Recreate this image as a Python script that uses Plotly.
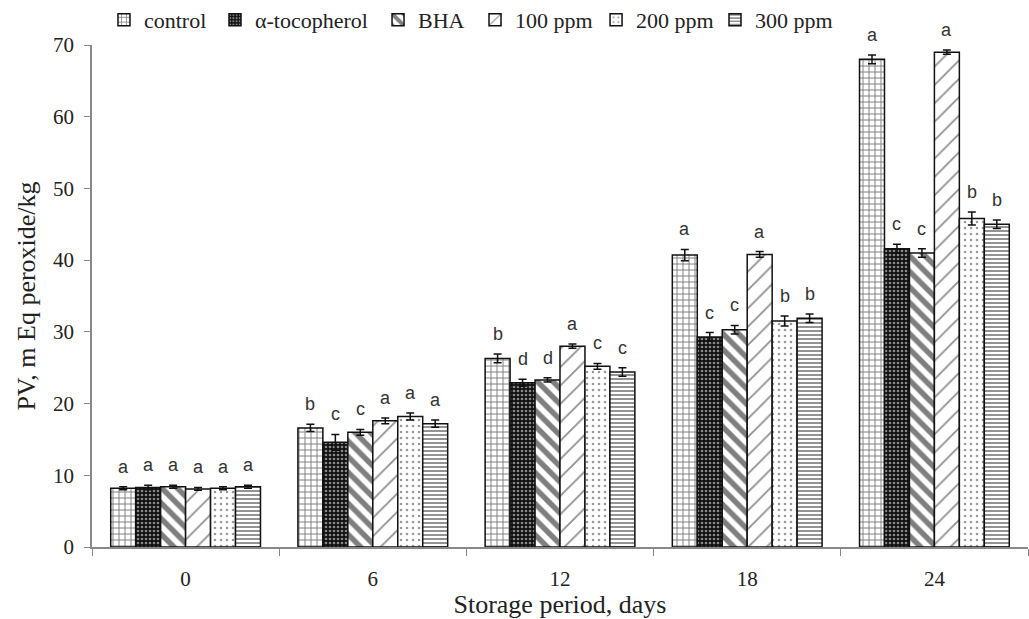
import plotly.graph_objects as go

days = ["0", "6", "12", "18", "24"]
series_names = ["control", "α-tocopherol", "BHA", "100 ppm", "200 ppm", "300 ppm"]

control = [8.2, 16.6, 26.3, 40.7, 68.0]
tocopherol = [8.3, 14.6, 22.9, 29.3, 41.6]
bha = [8.4, 16.0, 23.3, 30.3, 41.0]
ppm100 = [8.1, 17.6, 28.0, 40.8, 69.0]
ppm200 = [8.2, 18.2, 25.2, 31.5, 45.8]
ppm300 = [8.4, 17.2, 24.4, 31.9, 45.0]

err_control = [0.2, 0.5, 0.6, 0.8, 0.6]
err_tocopherol = [0.3, 1.1, 0.5, 0.6, 0.6]
err_bha = [0.2, 0.4, 0.3, 0.6, 0.6]
err_100 = [0.2, 0.4, 0.3, 0.4, 0.3]
err_200 = [0.2, 0.5, 0.4, 0.7, 0.9]
err_300 = [0.2, 0.5, 0.6, 0.6, 0.6]

letters_control = ["a", "b", "b", "a", "a"]
letters_tocopherol = ["a", "c", "d", "c", "c"]
letters_bha = ["a", "c", "d", "c", "c"]
letters_100 = ["a", "a", "a", "a", "a"]
letters_200 = ["a", "a", "c", "b", "b"]
letters_300 = ["a", "a", "c", "b", "b"]

values = [control, tocopherol, bha, ppm100, ppm200, ppm300]
errors = [err_control, err_tocopherol, err_bha, err_100, err_200, err_300]
letters = [letters_control, letters_tocopherol, letters_bha, letters_100, letters_200, letters_300]

patterns = [
    dict(shape="+", fgcolor="#000", bgcolor="white", size=6, solidity=0.3),
    dict(shape=".", fgcolor="white", bgcolor="#111", size=4, solidity=0.35),
    dict(shape="\\", fgcolor="#000", bgcolor="white", size=11, solidity=0.5),
    dict(shape="/", fgcolor="#222", bgcolor="white", size=13, solidity=0.14),
    dict(shape=".", fgcolor="#333", bgcolor="white", size=6, solidity=0.15),
    dict(shape="-", fgcolor="#111", bgcolor="white", size=4, solidity=0.45),
]

# legend entry positions (paper fraction) - layout only
legend_x = [0.0128, 0.1314, 0.3056, 0.4092, 0.5385, 0.6656]
LEGEND_Y = 1.05

SERIF = "Liberation Serif"

fig = go.Figure()
legend_ids = ["legend"] + ["legend%d" % k for k in range(2, 7)]
for name, vals, errs, pat, lid in zip(series_names, values, errors, patterns, legend_ids):
    fig.add_trace(go.Bar(
        name=name, x=days, y=vals, legend=lid,
        marker=dict(color="white", line=dict(color="#111", width=1.5), pattern=pat),
        error_y=dict(type="data", array=errs, color="#111", thickness=1.5, width=4),
    ))

n = len(series_names)
group_w = 0.8
bw = group_w / n
for i in range(n):
    for j, d in enumerate(days):
        fig.add_annotation(
            x=j - group_w / 2 + bw * (i + 0.5), y=values[i][j] + errors[i][j],
            xref="x", yref="y", text=letters[i][j], showarrow=False,
            yanchor="bottom", yshift=8,
            font=dict(family="Liberation Sans", size=18, color="#333"),
        )

legend_layout = {}
for lid, lx in zip(legend_ids, legend_x):
    legend_layout[lid] = dict(
        orientation="h", x=lx, xanchor="left", y=LEGEND_Y, yanchor="middle",
        font=dict(family=SERIF, size=22, color="#222"), itemwidth=30,
        bgcolor="rgba(0,0,0,0)",
    )

fig.update_layout(
    width=1029, height=619,
    margin=dict(l=92, r=1, t=45, b=72, autoexpand=False),
    paper_bgcolor="white", plot_bgcolor="white",
    barmode="group", bargap=0.2, bargroupgap=0,
    font=dict(family=SERIF, size=20, color="#222"),
    showlegend=True,
    **legend_layout,
)
fig.update_xaxes(
    type="category", tickson="boundaries", ticks="outside", ticklen=7,
    tickcolor="#888", showline=True, linecolor="#888", linewidth=1.5,
    showgrid=False, tickfont=dict(family=SERIF, size=21, color="#222"),
    ticklabelstandoff=12,
    title=dict(text="Storage period, days", font=dict(family=SERIF, size=26, color="#222"), standoff=4),
)
fig.update_yaxes(
    range=[0, 70], dtick=10, ticks="outside", ticklen=6, tickcolor="#888",
    showline=True, linecolor="#888", linewidth=1.5, showgrid=False,
    zeroline=False, tickfont=dict(family=SERIF, size=21, color="#222"),
    ticklabelstandoff=6,
    title=dict(text="PV, m Eq peroxide/kg", font=dict(family=SERIF, size=26, color="#222"), standoff=10),
)

fig.write_html("out.html")
